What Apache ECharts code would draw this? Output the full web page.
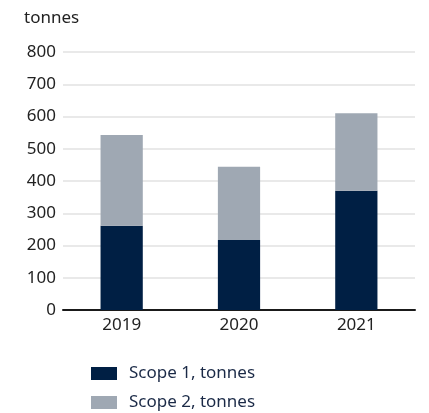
<!DOCTYPE html>
<html>
<head>
<meta charset="utf-8">
<script src="https://cdn.jsdelivr.net/npm/echarts@6/dist/echarts.min.js"></script>
<style>
  html, body { margin: 0; padding: 0; background: #ffffff; }
  #chart { width: 429px; height: 413px; }
</style>
</head>
<body>
<div id="chart"></div>
<script>
// Emissions per year, split by scope
const years = ['2019', '2020', '2021'];
const scope1 = [261, 217, 370];
const scope2 = [282, 227, 240];
const yTicks = [0, 100, 200, 300, 400, 500, 600, 700, 800];
const seriesNames = ['Scope 1, tonnes', 'Scope 2, tonnes'];

const FONT = '"Noto Sans", sans-serif';
const chart = echarts.init(document.getElementById('chart'), null, { renderer: 'canvas' });

// one legend row per series, stacked under the plot
function legendRow(name, top) {
  return {
    data: [name],
    orient: 'horizontal',
    left: 91,
    top: top,
    padding: 0,
    itemWidth: 26,
    itemHeight: 13,
    icon: 'rect',
    textStyle: { fontFamily: FONT, fontSize: 17, color: '#1b2a47', padding: [0, 0, 0, 7] }
  };
}

chart.setOption({
  animation: false,
  textStyle: { fontFamily: FONT },
  title: {
    text: 'tonnes',
    left: 19,
    top: 5,
    textStyle: { fontFamily: FONT, fontSize: 17, fontWeight: 'normal', color: '#222222' }
  },
  grid: { left: 63, right: 14, top: 52, bottom: 103, containLabel: false },
  legend: [legendRow(seriesNames[0], 365), legendRow(seriesNames[1], 394)],
  xAxis: {
    type: 'category',
    data: years,
    axisLine: { lineStyle: { color: '#1a1a1a', width: 2 } },
    axisTick: { show: false },
    axisLabel: { fontFamily: FONT, fontSize: 17, color: '#222222', margin: 7 }
  },
  yAxis: {
    type: 'value',
    min: yTicks[0],
    max: yTicks[yTicks.length - 1],
    interval: 100,
    axisLine: { show: false },
    axisTick: { show: false },
    axisLabel: { fontFamily: FONT, fontSize: 17, color: '#222222', margin: 7 },
    splitLine: { lineStyle: { color: '#e2e2e2', width: 1.5 } }
  },
  series: [
    {
      name: seriesNames[0],
      type: 'bar',
      stack: 'total',
      data: scope1,
      barWidth: '36%',
      itemStyle: { color: '#001f44' }
    },
    {
      name: seriesNames[1],
      type: 'bar',
      stack: 'total',
      data: scope2,
      barWidth: '36%',
      itemStyle: { color: '#9fa8b3' }
    }
  ]
});
</script>
</body>
</html>
